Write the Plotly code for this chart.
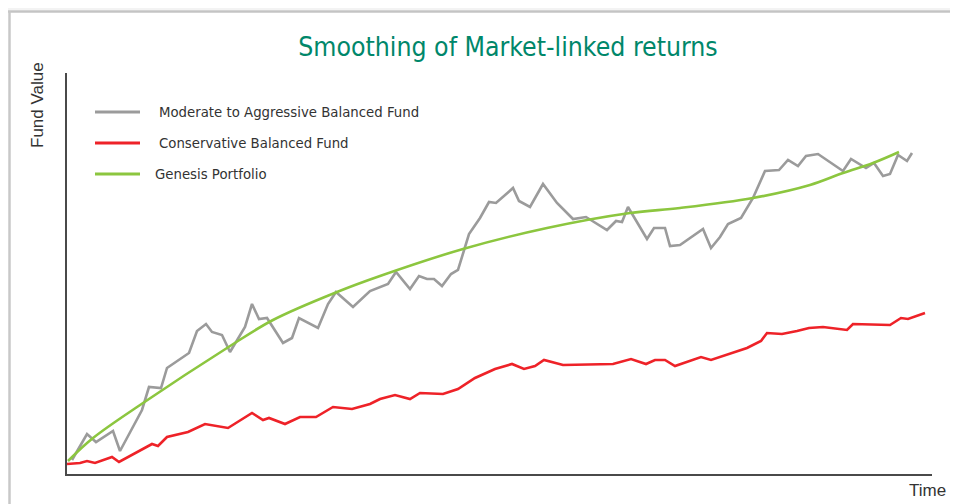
import plotly.graph_objects as go

# ---- data (arbitrary units: time 0..865, value 0..401) ----
series_names = ["Moderate to Aggressive Balanced Fund", "Conservative Balanced Fund", "Genesis Portfolio"]
series_colors = ["#9b9b9b", "#ee2228", "#8cc63f"]

aggressive_t = [5, 20, 29, 46, 53, 75, 82, 94, 100, 122, 130, 139, 145, 155, 163, 178, 185, 192, 200, 216,
                225, 232, 251, 261, 269, 280, 286, 303, 321, 329, 343, 352, 360, 367, 375, 384, 391, 402, 413, 422,
                429, 446, 452, 463, 476, 490, 506, 519, 540, 549, 555, 561, 580, 587, 598, 603, 613, 636, 644, 653,
                661, 674, 686, 698, 712, 721, 731, 739, 751, 776, 784, 799, 807, 816, 823, 831, 840, 845]
aggressive_v = [14, 40, 32, 43, 23, 64, 87, 86, 106, 121, 143, 150, 142, 139, 122, 147, 170, 155, 156, 131,
                136, 156, 146, 170, 182, 172, 167, 183, 190, 202, 185, 198, 195, 195, 188, 200, 204, 240, 256, 272,
                271, 286, 273, 267, 290, 271, 255, 257, 244, 253, 252, 267, 235, 246, 246, 228, 229, 245, 226, 237,
                250, 256, 276, 303, 304, 314, 308, 318, 320, 303, 315, 306, 311, 298, 300, 319, 313, 321]

conservative_t = [0, 13, 20, 28, 45, 52, 85, 91, 100, 121, 138, 161, 185, 196, 202, 218, 233, 249, 266, 285,
                  303, 313, 328, 343, 353, 376, 391, 408, 428, 445, 457, 468, 477, 496, 546, 564, 579, 588, 598, 608,
                  634, 644, 680, 694, 700, 715, 730, 742, 756, 780, 786, 823, 834, 841, 858]
conservative_v = [10, 11, 13, 11, 17, 12, 30, 28, 37, 42, 50, 46, 61, 54, 56, 50, 57, 57, 67, 65,
                  70, 75, 79, 75, 81, 80, 85, 96, 105, 110, 105, 108, 114, 109, 110, 115, 110, 114, 114, 108,
                  117, 114, 126, 133, 141, 140, 143, 146, 147, 144, 150, 149, 156, 155, 161]

genesis_t = [1, 26, 76, 160, 206, 270, 313, 396, 480, 563, 613, 686, 743, 776, 806, 832]
genesis_v = [13, 36, 71, 126, 154, 182, 198, 225, 246, 261, 266, 276, 289, 301, 311, 322]

title_text = "Smoothing of Market-linked returns"
y_title = "Fund Value"
x_title = "Time"

# ---- layout geometry ----
# the page body adds an 8px margin, so the figure is 8px smaller than the window
OFF = 8
W, H = 958 - OFF, 504 - OFF
L, R, T, B = 67 - OFF, 26, 73 - OFF, 30
PW, PH = W - L - R, H - T - B


def px(x):
    # x given in window pixels
    return (x - OFF - L) / PW


def py(y):
    # y given in window pixels
    return (H - B - (y - OFF)) / PH


fig = go.Figure()
fig.add_trace(go.Scatter(x=aggressive_t, y=aggressive_v, mode="lines", name=series_names[0],
                         line=dict(color=series_colors[0], width=2.6)))
fig.add_trace(go.Scatter(x=conservative_t, y=conservative_v, mode="lines", name=series_names[1],
                         line=dict(color=series_colors[1], width=2.6)))
fig.add_trace(go.Scatter(x=genesis_t, y=genesis_v, mode="lines", name=series_names[2],
                         line=dict(color=series_colors[2], width=2.6, shape="spline", smoothing=1.0)))

shapes = [
    # frame decoration
    dict(type="rect", xref="paper", yref="paper", x0=px(OFF), x1=px(958), y0=py(OFF), y1=py(10),
         fillcolor="#f3f3f3", line=dict(width=0), layer="below"),
    dict(type="line", xref="paper", yref="paper", x0=px(8), x1=px(958), y0=py(11.5), y1=py(11.5),
         line=dict(color="#c4c4c4", width=2.5)),
    dict(type="line", xref="paper", yref="paper", x0=px(9.5), x1=px(9.5), y0=py(11), y1=py(504),
         line=dict(color="#c8c8c8", width=2.5)),
]
annotations = []
legend_y = [112, 143, 174]
legend_tx = [157, 157, 153]
for name, col, ly, tx in zip(series_names, series_colors, legend_y, legend_tx):
    shapes.append(dict(type="line", xref="paper", yref="paper", x0=px(95), x1=px(140), y0=py(ly), y1=py(ly),
                       line=dict(color=col, width=3)))
    annotations.append(dict(xref="paper", yref="paper", x=px(tx), y=py(ly), text=name, showarrow=False,
                            xanchor="left", yanchor="middle",
                            font=dict(family="DejaVu Sans", size=13.3, color="#333333")))

annotations.append(dict(xref="paper", yref="paper", x=px(37), y=py(105), text=y_title, showarrow=False,
                        textangle=-90, xanchor="center", yanchor="middle",
                        font=dict(family="Liberation Sans", size=17, color="#333333")))
annotations.append(dict(xref="paper", yref="paper", x=px(927), y=py(491), text=x_title, showarrow=False,
                        xanchor="center", yanchor="middle",
                        font=dict(family="Liberation Sans", size=17, color="#333333")))

fig.update_layout(
    width=W, height=H,
    margin=dict(l=L, r=R, t=T, b=B),
    paper_bgcolor="white", plot_bgcolor="white",
    showlegend=False,
    title=dict(text=title_text, x=(508 - OFF) / W, xref="container", xanchor="center",
               y=1 - (47 - OFF) / H, yref="container", yanchor="middle",
               font=dict(family="DejaVu Sans Condensed", size=26.4, color="#00876a")),
    xaxis=dict(range=[0, PW], showline=True, linecolor="#4a4a4a", linewidth=2, showgrid=False,
               zeroline=False, showticklabels=False, ticks=""),
    yaxis=dict(range=[0, PH], showline=True, linecolor="#4a4a4a", linewidth=2, showgrid=False,
               zeroline=False, showticklabels=False, ticks=""),
    shapes=shapes,
    annotations=annotations,
)

fig.write_html("out.html")
